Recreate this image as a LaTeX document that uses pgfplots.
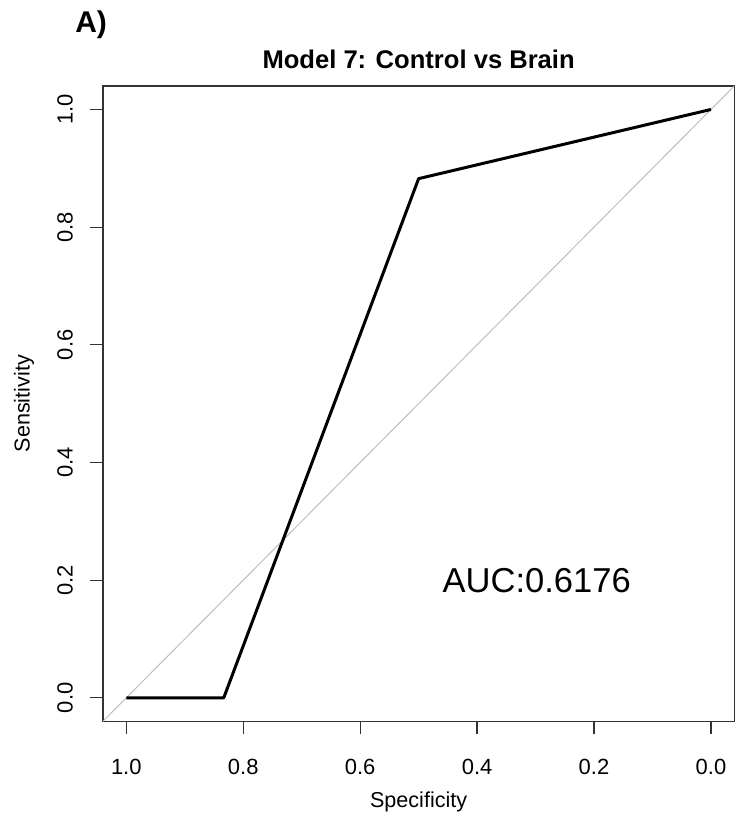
\documentclass[border=0pt]{standalone}
\usepackage{fontspec}
\setmainfont{Liberation Sans}
\usepackage{pgfplots}
\pgfplotsset{compat=1.18}
\definecolor{rgrey}{HTML}{BEBEBE}

\begin{document}
\begin{tikzpicture}
\begin{axis}[
    at={(0,0)}, anchor=south west,
    scale only axis,
    width=316pt, height=318pt,
    xmin=-0.04, xmax=1.04, ymin=-0.04, ymax=1.04,
    x dir=reverse,
    xtick={0,0.2,0.4,0.6,0.8,1}, ytick={0,0.2,0.4,0.6,0.8,1},
    xticklabels={0.0,0.2,0.4,0.6,0.8,1.0},
    yticklabels={0.0,0.2,0.4,0.6,0.8,1.0},
    tick align=outside, major tick length=6.5pt,
    xtick pos=bottom, ytick pos=left,
    axis line style={black!80, line width=0.75pt},
    tick style={black!80, line width=0.6pt},
    /pgf/number format/assume math mode=true,
    ticklabel style={font=\fontsize{11}{13}\selectfont},
    xticklabel style={anchor=north, yshift=-9pt},
    yticklabel style={rotate=90, anchor=south, yshift=5pt},
    clip=true,
]
\addplot[rgrey, line width=0.5pt] coordinates {(1.04,-0.04) (-0.04,1.04)};
\addplot[black, line width=1.5pt, line join=round] coordinates {
    (1.0,0.0) (0.8333,0.0) (0.5,0.8824) (0.0,1.0)};
\node[font=\fontsize{17.3}{20}\selectfont] at (axis cs:0.298,0.2)
    {AUC:0.6176};
\end{axis}
\node[font=\bfseries\fontsize{12.8}{15}\selectfont] at (158pt,331.5pt)
    {Model 7: Control vs Brain};
\node[font=\bfseries\fontsize{15}{18}\selectfont, anchor=west, inner sep=0pt]
    at (-14pt,348.5pt) {A)};
\node[font=\fontsize{10.8}{13}\selectfont] at (158pt,-40.5pt) {Specificity};
\node[font=\fontsize{10.8}{13}\selectfont, rotate=90] at (-39.5pt,159pt)
    {Sensitivity};
\path[use as bounding box] (-51.5pt,-48.5pt) rectangle (316.5pt,361pt);
\end{tikzpicture}
\end{document}
